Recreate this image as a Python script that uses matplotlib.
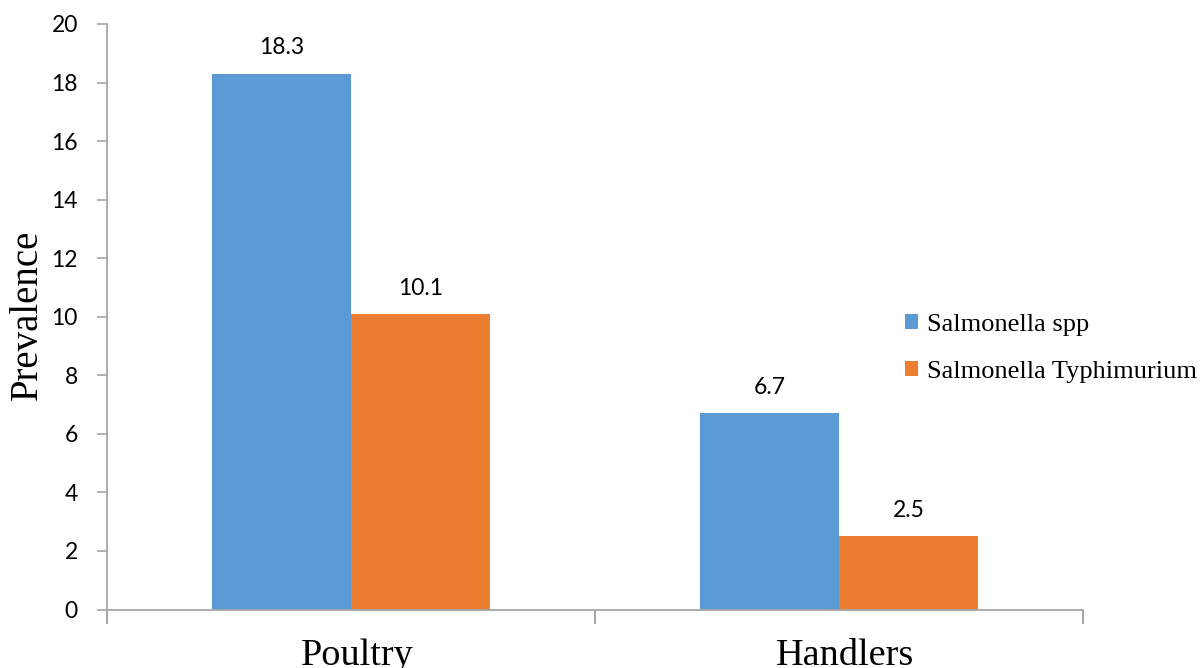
import matplotlib
matplotlib.use("Agg")
import matplotlib.pyplot as plt
import numpy as np

categories = ["Poultry", "Handlers"]
series_names = ["Salmonella spp", "Salmonella Typhimurium"]
spp_values = [18.3, 6.7]
typhimurium_values = [10.1, 2.5]
y_ticks = [0, 2, 4, 6, 8, 10, 12, 14, 16, 18, 20]

blue = "#5B9BD5"
orange = "#ED7D31"
axis_grey = "#A6A6A6"
serif = ["Liberation Serif", "DejaVu Serif"]
sans = ["Lato", "DejaVu Sans"]

W, H = 1203, 668
fig = plt.figure(figsize=(W / 100, H / 100), dpi=100)
ax = fig.add_axes([107 / W, 1 - 609.5 / H, (1083 - 107) / W, (609.5 - 24) / H])

x = np.arange(len(categories))
width = 0.285
bars1 = ax.bar(x - width / 2, spp_values, width, color=blue, label=series_names[0])
bars2 = ax.bar(x + width / 2, typhimurium_values, width, color=orange, label=series_names[1])

for bars, vals in ((bars1, spp_values), (bars2, typhimurium_values)):
    for b, v in zip(bars, vals):
        ax.annotate(f"{v}", (b.get_x() + b.get_width() / 2, v), xytext=(0, 11),
                    textcoords="offset points", ha="center", va="bottom",
                    fontsize=16.5, family=sans, color="#000000")

ax.set_xlim(-0.5, len(categories) - 0.5)
ax.set_ylim(0, 20)
ax.set_yticks(y_ticks)
ax.set_yticklabels([str(t) for t in y_ticks], fontsize=16.5, family=sans)
ax.tick_params(axis="y", length=7, width=1.2, color=axis_grey, pad=14)

# category boundaries as ticks, labels placed at category centres
ax.set_xticks(np.arange(len(categories) + 1) - 0.5)
ax.set_xticklabels([])
ax.tick_params(axis="x", length=10, width=1.5, color=axis_grey)
for xi, name in zip(x, categories):
    ax.text(xi + 0.012, -1.9, name, ha="center", va="baseline", fontsize=27.5,
            family=serif, transform=ax.transData, clip_on=False)

for s in ("top", "right"):
    ax.spines[s].set_visible(False)
for s in ("left", "bottom"):
    ax.spines[s].set_color(axis_grey)
    ax.spines[s].set_linewidth(1.3)

fig.text(27 / W, 1 - 315 / H, "Prevalence", rotation=90, ha="center", va="center",
         fontsize=28, family=serif)

leg = ax.legend(loc="upper left", bbox_to_anchor=(905 / W, 1 - 314 / H),
                bbox_transform=fig.transFigure, frameon=False,
                prop={"family": serif, "size": 19}, handlelength=0.5,
                handleheight=0.5, handletextpad=0.35, labelspacing=0.95,
                borderaxespad=0, borderpad=0)

fig.savefig("out.png", dpi=100)
